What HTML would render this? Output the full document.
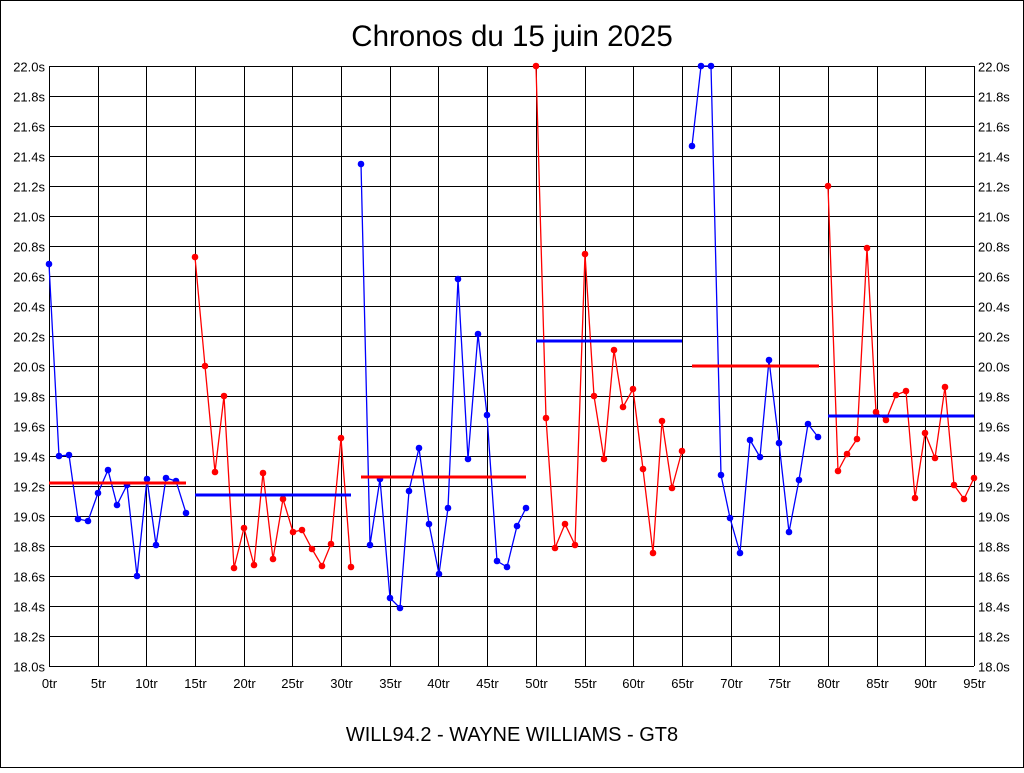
<!DOCTYPE html><html><head><style>body{margin:0;background:#fff}</style></head><body>
<svg width="1024" height="768" xmlns="http://www.w3.org/2000/svg" font-family="Liberation Sans, sans-serif">
<rect width="1024" height="768" fill="#fff"/>
<rect x="0.5" y="0.5" width="1023" height="767" fill="none" stroke="#000"/>
<text x="512" y="46" font-size="29.5" text-anchor="middle">Chronos du 15 juin 2025</text>
<text x="512" y="741" font-size="20" text-anchor="middle">WILL94.2 - WAYNE WILLIAMS - GT8</text>
<g id="grid" stroke="#000" stroke-width="1"></g>
<g id="lab" font-size="13"></g>
<g id="series"></g>
<script>
var g=document.getElementById('grid'),l=document.getElementById('lab'),s=document.getElementById('series'),NS='http://www.w3.org/2000/svg';
function el(p,t,a,txt){var e=document.createElementNS(NS,t);for(var k in a)e.setAttribute(k,a[k]);if(txt)e.textContent=txt;p.appendChild(e);return e;}
var X0=49,X1=974,Y0=66,Y1=666;
for(var i=0;i<=20;i++){var y=Y0+i*30+0.5;el(g,'line',{x1:X0,x2:X1,y1:y,y2:y});var v=(22-i*0.2).toFixed(1)+'s';
el(l,'text',{x:45,y:y+5,'text-anchor':'end'},v);el(l,'text',{x:978,y:y+5},v);}
for(var i=0;i<=19;i++){var x=Math.round(X0+i*925/19)+0.5;el(g,'line',{x1:x,x2:x,y1:Y0,y2:Y1});el(l,'text',{x:x,y:688,'text-anchor':'middle'},(i*5)+'tr');}
var segs=[
['#00f',[[49,264],[59,456],[69,455],[78,519],[88,521],[98,493],[108,470],[117,505],[127,485],[137,576],[147,479],[156,545],[166,478],[176,481],[186,513]],'#f00',483,49,186],
['#f00',[[195,257],[205,366],[215,472],[224,396],[234,568],[244,528],[254,565],[263,473],[273,559],[283,499],[293,532],[302,530],[312,549],[322,566],[331,544],[341,438],[351,567]],'#00f',495,195,351],
['#00f',[[361,164],[370,545],[380,479],[390,598],[400,608],[409,491],[419,448],[429,524],[439,574],[448,508],[458,279],[468,459],[478,334],[487,415],[497,561],[507,567],[517,526],[526,508]],'#f00',477,361,526],
['#f00',[[536,66],[546,418],[555,548],[565,524],[575,545],[585,254],[594,396],[604,459],[614,350],[623,407],[633,389],[643,469],[653,553],[662,421],[672,488],[682,451]],'#00f',341,536,682],
['#00f',[[692,146],[701,66],[711,66],[721,475],[730,518],[740,553],[750,440],[760,457],[769,360],[779,443],[789,532],[799,480],[808,424],[818,437]],'#f00',366,692,819],
['#f00',[[828,186],[838,471],[847,454],[857,439],[867,248],[876,412],[886,420],[896,395],[906,391],[915,498],[925,433],[935,458],[945,387],[954,485],[964,499],[974,478]],'#00f',416,828,974]];
segs.forEach(function(sg){
el(s,'polyline',{points:sg[1].map(function(p){return p.join(',')}).join(' '),fill:'none',stroke:sg[0],'stroke-width':1.3});
sg[1].forEach(function(p){el(s,'circle',{cx:p[0],cy:p[1],r:3.3,fill:sg[0]});});
el(s,'line',{x1:sg[4],x2:sg[5],y1:sg[3],y2:sg[3],stroke:sg[2],'stroke-width':3});
});
</script>
</svg></body></html>
